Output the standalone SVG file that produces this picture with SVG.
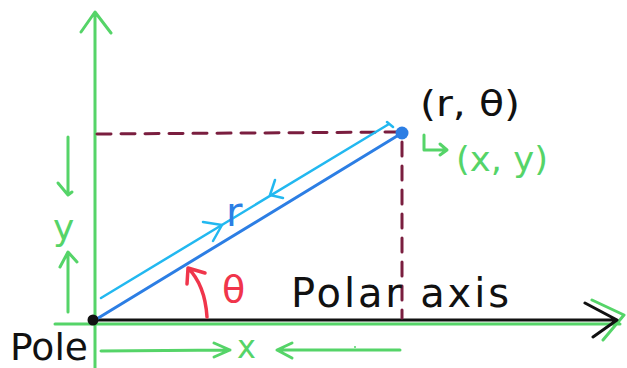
<svg xmlns="http://www.w3.org/2000/svg" width="627" height="368" viewBox="0 0 627 368">
<style>
.g{stroke:#55d468;fill:none;stroke-width:3;stroke-linecap:round;stroke-linejoin:round}
.k{stroke:#111;fill:none;stroke-width:3;stroke-linecap:round;stroke-linejoin:round}
.c{stroke:#22b8f0;fill:none;stroke-width:2.5;stroke-linecap:round;stroke-linejoin:round}
.b{stroke:#2c7ee4;fill:none;stroke-width:3;stroke-linecap:round}
.d{stroke:#7a1e3f;fill:none;stroke-width:3;stroke-dasharray:14 10;stroke-linecap:round}
.r{stroke:#f0354b;fill:none;stroke-width:3.5;stroke-linecap:round;stroke-linejoin:round}
.t{font-family:"DejaVu Sans","Liberation Sans",sans-serif}
</style>
<rect width="627" height="368" fill="#fff"/>
<g id="axes">
<path class="g" d="M95 368 L95 13 M81 32 L95 12 L111 33"/>
<path class="g" d="M55 324 L620 324 M592 300 L624 315 L603 340"/>
<path class="k" d="M93 320 L616 320 M585 303 L617 320 L593 337"/>
</g>
<g id="connectors">
<path class="d" d="M97 134 L400 132"/>
<path class="d" d="M402 142 L402 318"/>
<path class="b" d="M95 320 L402 133"/>
<path class="c" d="M101 298 L389 124 M387 122 L393 127"/>
<path class="c" d="M203 222 L222 225 L213 241"/>
<path class="c" d="M275 180 L270 195 L283 198"/>
<path class="r" d="M207 317 Q205 285 188 268 M187 284 L188 268 L205 273"/>
<path class="g" d="M68 137 L68 194 M58 183 L68 195 L72 192"/>
<path class="g" d="M68 312 L68 253 M60 267 L68 252 L77 262"/>
<path class="g" d="M101 351 L230 350 M214 343 L230 350 L214 357"/>
<path class="g" d="M400 350 L278 350 M292 343 L277 350 L292 358"/>
<circle cx="355" cy="347" r="1" fill="#55d468"/>
<path class="g" d="M424 135 L424 150 L447 150 M440 144 L447 150 L440 155"/>
</g>
<g id="pole">
<circle cx="93" cy="320" r="5.5" fill="#111"/>
<text class="t" x="10" y="360" font-size="38" fill="#111" textLength="78" lengthAdjust="spacingAndGlyphs">Pole</text>
</g>
<g id="point">
<circle cx="402" cy="133" r="6.5" fill="#2c7ee4"/>
<text class="t" x="420" y="116" font-size="36" fill="#111" textLength="100" lengthAdjust="spacingAndGlyphs">(r, θ)</text>
<text class="t" x="456" y="171" font-size="34" fill="#55d468" textLength="92" lengthAdjust="spacingAndGlyphs">(x, y)</text>
</g>
<g id="labels">
<text class="t" x="226" y="226" font-size="40" fill="#2c7ee4">r</text>
<text class="t" x="222" y="302" font-size="38" fill="#f0354b">θ</text>
<text class="t" x="291" y="307" font-size="40" fill="#111" textLength="218" lengthAdjust="spacing">Polar axis</text>
<text class="t" x="237" y="358" font-size="32" fill="#55d468">x</text>
<text class="t" x="53" y="240" font-size="36" fill="#55d468">y</text>
</g>
</svg>
